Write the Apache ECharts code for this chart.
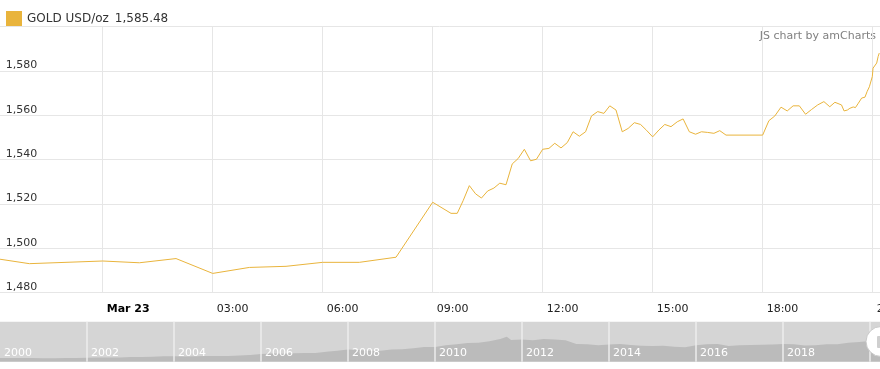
<!DOCTYPE html>
<html>
<head>
<meta charset="utf-8">
<script src="https://cdn.jsdelivr.net/npm/echarts@6/dist/echarts.min.js"></script>
<style>
html,body{margin:0;padding:0;background:#fff;}
#chart{width:880px;height:369px;}
</style>
</head>
<body>
<div id="chart"></div>
<script>
// Hours relative to Mar 23 00:00
var hours = [-2.8,-2,0,1,2,3,4,5,6,7,8,9,9.5,9.67,9.83,10,10.17,10.33,10.5,10.67,10.83,11,11.17,11.33,11.5,11.67,11.83,12,12.17,12.33,12.5,12.67,12.83,13,13.17,13.33,13.5,13.67,13.83,14,14.17,14.33,14.5,14.67,14.83,15,15.17,15.33,15.5,15.67,15.83,16,16.17,16.33,16.5,16.67,16.83,17,18,18.17,18.33,18.5,18.67,18.83,19,19.17,19.33,19.5,19.67,19.83,19.97,20.15,20.22,20.26,20.31,20.38,20.47,20.53,20.61,20.70,20.79,20.85,20.91,20.94,20.99,21.01,21.06,21.11,21.15,21.18];
var prices = [1495.1,1493.1,1494.3,1493.5,1495.4,1488.7,1491.4,1491.9,1493.7,1493.7,1496.0,1520.8,1515.8,1515.8,1521.5,1528.3,1524.6,1522.7,1525.9,1527.2,1529.4,1528.7,1538.1,1540.5,1544.7,1539.5,1540.2,1544.7,1545.1,1547.4,1545.3,1547.7,1552.6,1550.6,1552.6,1559.7,1561.7,1560.9,1564.3,1562.4,1552.6,1554.1,1556.7,1555.9,1553.3,1550.3,1553.4,1555.9,1554.9,1557.1,1558.4,1552.6,1551.5,1552.6,1552.3,1551.9,1553.1,1551.1,1551.1,1557.6,1559.7,1563.7,1562.0,1564.3,1564.3,1560.5,1562.6,1564.7,1566.2,1563.9,1565.9,1564.7,1562.0,1561.2,1562.4,1563.2,1563.8,1563.5,1565.5,1567.8,1568.2,1570.8,1572.9,1572.2,1577.5,1581.3,1581.0,1583.6,1586.6,1588.1];
var seriesName = 'GOLD USD/oz';
var lastPrice = '1,585.48';
var dayLabel = 'Mar 23';
var creditText = 'JS chart by amCharts';

// Navigator (long-term history)
var navYears = [2000,2000.25,2000.5,2000.75,2001,2001.25,2001.5,2001.75,2002,2002.25,2002.5,2002.75,2003,2003.25,2003.5,2003.75,2004,2004.25,2004.5,2004.75,2005,2005.25,2005.5,2005.75,2006,2006.25,2006.5,2006.75,2007,2007.25,2007.5,2007.75,2008,2008.25,2008.5,2008.75,2009,2009.25,2009.5,2009.75,2010,2010.25,2010.5,2010.75,2011,2011.25,2011.5,2011.65,2011.75,2012,2012.25,2012.5,2012.75,2013,2013.25,2013.5,2013.75,2014,2014.25,2014.5,2014.75,2015,2015.25,2015.5,2015.75,2016,2016.25,2016.5,2016.75,2017,2017.25,2017.5,2017.75,2018,2018.25,2018.5,2018.75,2019,2019.25,2019.5,2019.75,2020,2020.23];
var navValues = [285,280,275,270,265,268,272,278,295,315,315,320,350,345,370,400,410,395,410,435,430,430,470,510,580,620,600,630,660,660,740,820,920,880,830,820,920,930,1000,1100,1110,1240,1300,1400,1430,1530,1700,1880,1620,1660,1600,1700,1660,1600,1330,1300,1230,1290,1320,1260,1200,1180,1190,1120,1080,1230,1300,1330,1180,1230,1250,1270,1290,1330,1300,1220,1240,1300,1300,1420,1480,1560,1585];

var chart = echarts.init(document.getElementById('chart'));
var FONT = 'DejaVu Sans';
var GRID = '#e6e6e6';

function fmtNum(v){
  var s = String(Math.round(v));
  return s.replace(/\B(?=(\d{3})+(?!\d))/g, ',');
}

chart.setOption({
  animation: false,
  backgroundColor: '#ffffff',
  textStyle: {fontFamily: FONT},
  legend: {
    left: 1, top: 6,
    icon: 'rect', itemWidth: 16, itemHeight: 15, itemGap: 5,
    data: [seriesName],
    textStyle: {fontFamily: FONT, fontSize: 12, color: '#333',
      rich: {v: {fontFamily: FONT, fontSize: 12, color: '#333', padding: [0,0,0,6]}}},
    formatter: function(n){ return n + '{v|' + lastPrice + '}'; }
  },
  graphic: [
    {type: 'text', right: 4, top: 31, style: {text: creditText, fill: '#808080', font: '11px "DejaVu Sans"'}},
    {type: 'circle', shape: {cx: 881, cy: 341.5, r: 15}, style: {fill: '#ffffff', stroke: '#c8c8c8', lineWidth: 1}, z: 100},
    {type: 'rect', shape: {x: 877, y: 336, width: 4, height: 12, r: 1}, style: {fill: '#cfcfcf'}, z: 101}
  ],
  grid: [
    {left: -7.3, right: 0, top: 26.7, bottom: 76.3, containLabel: false, outerBoundsMode: 'none'},
    {left: 0, right: 0, top: 321.7, height: 40, show: true, backgroundColor: '#d5d5d5', borderWidth: 0, containLabel: false, outerBoundsMode: 'none'}
  ],
  xAxis: [
    {
      type: 'value', gridIndex: 0, min: -3, max: 21.2, interval: 3,
      axisLine: {show: false}, axisTick: {show: false},
      splitLine: {show: true, showMaxLine: false, lineStyle: {color: GRID, width: 1}},
      axisLabel: {
        showMinLabel: false, showMaxLabel: true, hideOverlap: false, align: 'left', margin: 11, padding: [0,0,0,4],
        fontFamily: FONT, fontSize: 11, color: '#222',
        rich: {b: {fontFamily: FONT, fontSize: 11, fontWeight: 'bold', color: '#000'}},
        formatter: function(v){
          if (Math.abs(v - Math.round(v)) > 1e-6 || Math.round(v) % 3 !== 0) return '';
          if (v === 0) return '{b|' + dayLabel + '}';
          var h = ((Math.round(v) % 24) + 24) % 24;
          return (h < 10 ? '0' : '') + h + ':00';
        }
      }
    },
    {
      type: 'value', gridIndex: 1, min: 2000, max: 2020.23, interval: 2, z: 10,
      axisLine: {show: false}, axisTick: {show: false},
      splitLine: {show: true, showMinLine: false, showMaxLine: false, lineStyle: {color: '#ececec', width: 1.5}},
      axisLabel: {
        inside: true, align: 'left', margin: 3, padding: [0,0,0,4],
        fontFamily: FONT, fontSize: 11, color: '#ffffff',
        formatter: function(v){ return (Math.abs(v - Math.round(v)) < 1e-6) ? String(Math.round(v)) : ''; }
      }
    }
  ],
  yAxis: [
    {
      type: 'value', gridIndex: 0, min: 1480, max: 1600, interval: 20,
      axisLine: {show: false}, axisTick: {show: false},
      splitLine: {show: true, lineStyle: {color: GRID, width: 1}},
      axisLabel: {
        inside: true, margin: 13, verticalAlign: 'bottom', lineHeight: 11, showMaxLabel: false,
        fontFamily: FONT, fontSize: 11, color: '#333',
        formatter: function(v){ return v >= 1600 ? '' : fmtNum(v); }
      }
    },
    {
      type: 'value', gridIndex: 1, min: 0, max: 3000, show: false
    }
  ],
  series: [
    {
      name: seriesName, type: 'line', xAxisIndex: 0, yAxisIndex: 0,
      data: hours.map(function(h, i){ return [h, prices[i]]; }),
      showSymbol: false, symbol: 'none', clip: true,
      itemStyle: {color: '#e9b43c'},
      lineStyle: {color: '#e9b43c', width: 1}
    },
    {
      name: 'nav', type: 'line', xAxisIndex: 1, yAxisIndex: 1,
      data: navYears.map(function(y, i){ return [y, navValues[i]]; }),
      showSymbol: false, symbol: 'none',
      lineStyle: {width: 0},
      itemStyle: {color: '#bbbbbb'},
      areaStyle: {color: '#bbbbbb', opacity: 1},
      z: 1
    }
  ]
});
</script>
</body>
</html>
